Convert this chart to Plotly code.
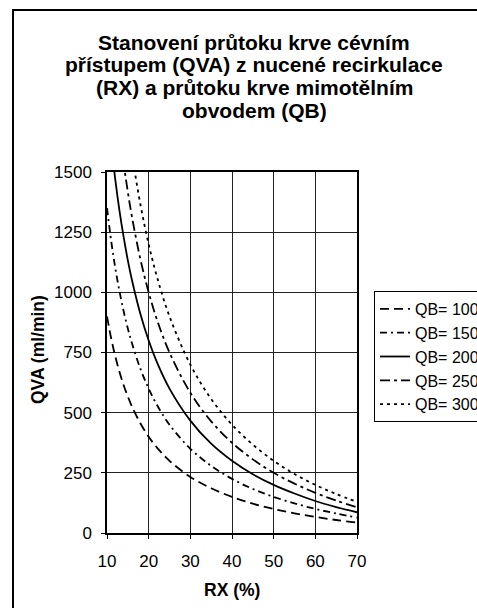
import plotly.graph_objects as go

# Data
rx = [10, 11, 12, 13, 14, 15, 16, 18, 20, 22, 25, 30, 35, 40, 45, 50, 55, 60, 65, 70]
qb100 = [900, 809, 733, 669, 614, 567, 525, 456, 400, 355, 300, 233, 186, 150, 122, 100, 82, 67, 54, 43]
qb150 = [1350, 1214, 1100, 1004, 921, 850, 788, 683, 600, 532, 450, 350, 279, 225, 183, 150, 123, 100, 81, 64]
qb200 = [1800, 1618, 1467, 1338, 1229, 1133, 1050, 911, 800, 709, 600, 467, 371, 300, 244, 200, 164, 133, 108, 86]
qb250 = [2250, 2023, 1833, 1673, 1536, 1417, 1313, 1139, 1000, 886, 750, 583, 464, 375, 306, 250, 205, 167, 135, 107]
qb300 = [2700, 2427, 2200, 2008, 1843, 1700, 1575, 1367, 1200, 1064, 900, 700, 557, 450, 367, 300, 245, 200, 162, 129]

series_names = ["QB= 100", "QB= 150", "QB= 200", "QB= 250", "QB= 300"]
series_vals = [qb100, qb150, qb200, qb250, qb300]
dashes = ["9px,5px", "7px,4px,2px,4px", "solid", "10px,4px,3px,4px", "3px,4px"]

title_lines = ["Stanovení průtoku krve cévním",
               "přístupem (QVA) z nucené recirkulace",
               "(RX) a průtoku krve mimotělním",
               "obvodem (QB)"]

W, H = 477, 608
L, R, T, B = 107, 357, 172, 533  # plot-area pixel bounds

def px_x(p):
    return (p - L) / (R - L)

def px_y(p):
    return (B - p) / (B - T)

FONT = "Liberation Sans, Arial, sans-serif"

fig = go.Figure()
for name, vals, d in zip(series_names, series_vals, dashes):
    fig.add_trace(go.Scatter(x=rx, y=vals, mode="lines", name=name,
                             line=dict(color="black", width=1.8, dash=d, shape="spline")))

annotations = []
for i, line in enumerate(title_lines):
    annotations.append(dict(text="<b>" + line + "</b>", xref="paper", yref="paper",
                            x=px_x(254), y=px_y(42 + i * 22.7), showarrow=False,
                            xanchor="center", yanchor="middle",
                            font=dict(family=FONT, size=21, color="black")))
annotations.append(dict(text="<b>QVA (ml/min)</b>", xref="paper", yref="paper",
                        x=px_x(38), y=px_y(350), showarrow=False, textangle=-90,
                        xanchor="center", yanchor="middle",
                        font=dict(family=FONT, size=17.5, color="black")))
annotations.append(dict(text="<b>RX (%)</b>", xref="paper", yref="paper",
                        x=px_x(232), y=px_y(590), showarrow=False,
                        xanchor="center", yanchor="middle",
                        font=dict(family=FONT, size=17.5, color="black")))

shapes = [dict(type="rect", xref="paper", yref="paper",
               x0=px_x(13), x1=px_x(500), y0=px_y(650), y1=px_y(10),
               line=dict(color="black", width=2), fillcolor="rgba(0,0,0,0)", layer="below")]

fig.update_layout(
    width=W, height=H,
    margin=dict(l=L, r=W - R, t=T, b=H - B, autoexpand=False),
    paper_bgcolor="white", plot_bgcolor="white",
    font=dict(family=FONT, color="black", size=17),
    showlegend=True,
    legend=dict(x=px_x(374), y=px_y(291), xanchor="left", yanchor="top",
                bordercolor="black", borderwidth=1, bgcolor="white",
                font=dict(family=FONT, size=16, color="black"),
                itemwidth=30, tracegroupgap=0),
    annotations=annotations,
    shapes=shapes,
)
fig.update_xaxes(range=[10, 70], dtick=10, tick0=10, showgrid=True, gridcolor="#222",
                 gridwidth=1, showline=True, linecolor="black", linewidth=1.5, mirror=True,
                 ticks="outside", ticklen=4, tickcolor="black", zeroline=False,
                 ticklabelstandoff=8,
                 tickfont=dict(family=FONT, size=17, color="black"))
fig.update_yaxes(range=[0, 1500], dtick=250, tick0=0, showgrid=True, gridcolor="#222",
                 gridwidth=1, showline=True, linecolor="black", linewidth=1.5, mirror=True,
                 ticks="outside", ticklen=4, tickcolor="black", zeroline=False,
                 ticklabelstandoff=6,
                 tickfont=dict(family=FONT, size=17, color="black"))

fig.write_html("out.html", config={"displayModeBar": False},
               post_script="document.body.style.margin='0';document.body.style.overflow='hidden';")
